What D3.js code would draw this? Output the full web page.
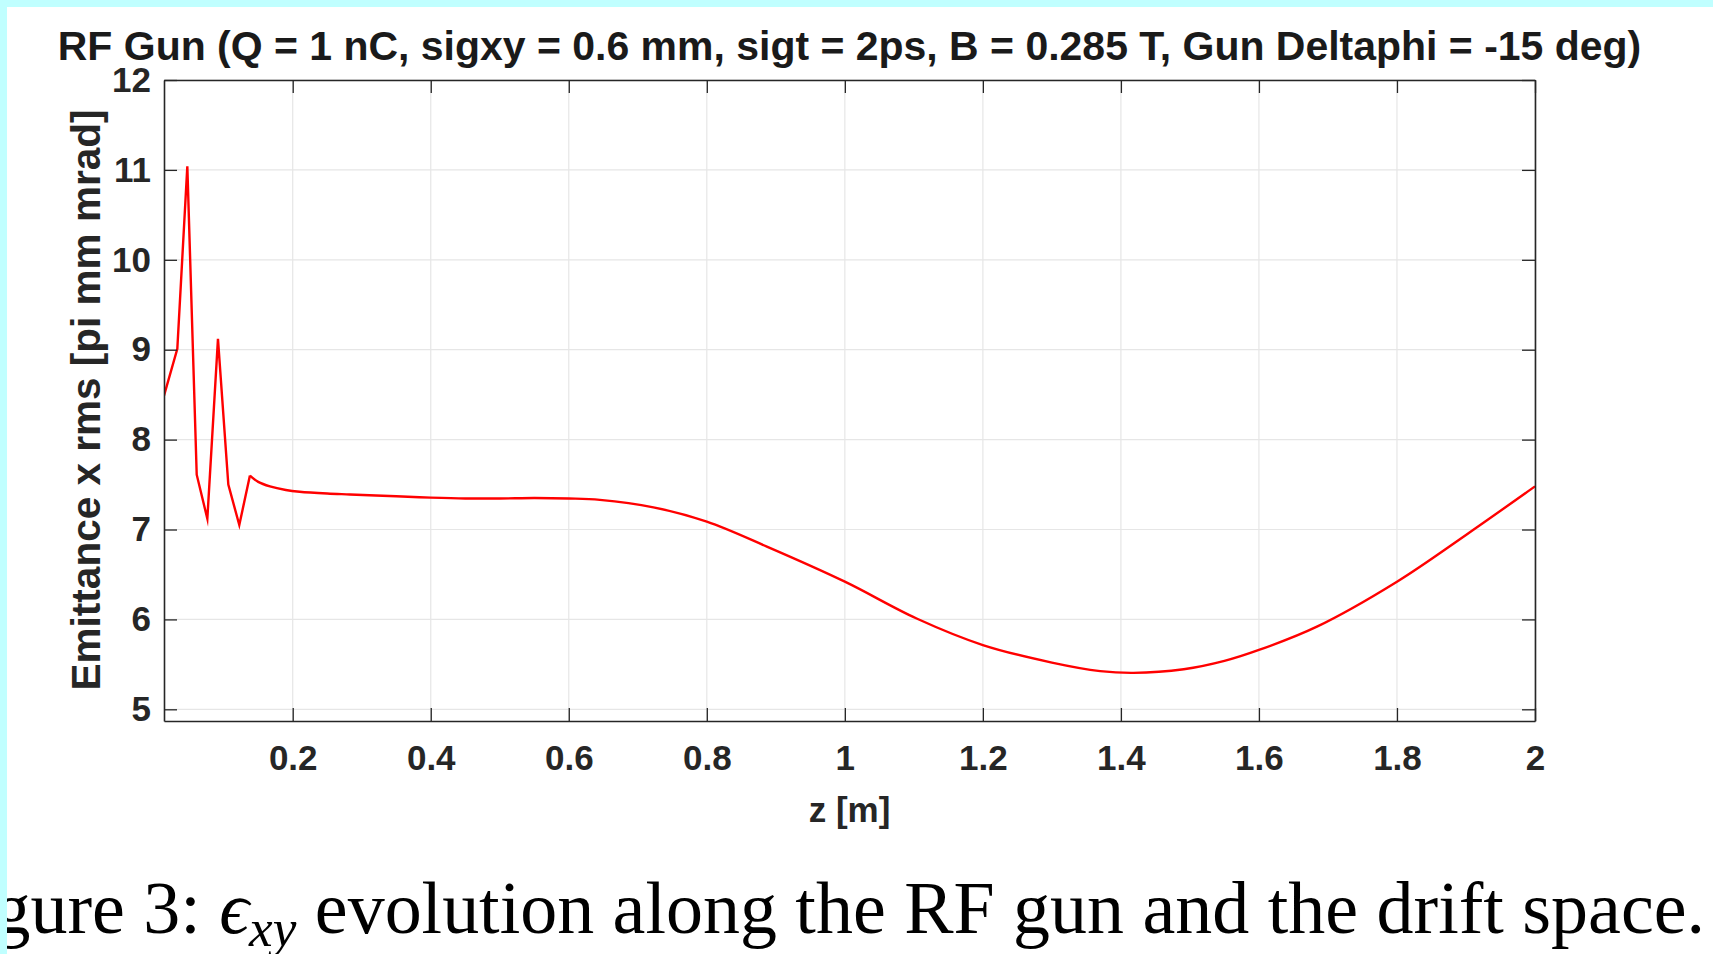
<!DOCTYPE html>
<html>
<head>
<meta charset="utf-8">
<script src="https://cdn.jsdelivr.net/npm/d3@7/dist/d3.min.js"></script>
<style>
  html, body { margin: 0; padding: 0; background: #ffffff; }
  svg { display: block; }
</style>
</head>
<body>
<svg id="chart" width="1713" height="954"></svg>
<script>
// ---- data ----
const titleText = "RF Gun (Q = 1 nC, sigxy = 0.6 mm, sigt = 2ps, B = 0.285 T, Gun Deltaphi = -15 deg)";
const xLabel = "z [m]";
const yLabel = "Emittance x rms [pi mm mrad]";
const xTicks = [0.2, 0.4, 0.6, 0.8, 1, 1.2, 1.4, 1.6, 1.8, 2];
const yTicks = [5, 6, 7, 8, 9, 10, 11, 12];

// sharp oscillation near the gun (drawn with straight segments)
const zGun = [0.0135, 0.0328, 0.0473, 0.0609, 0.0763, 0.0917, 0.1067, 0.1226, 0.138];
const emitGun = [8.49, 9.01, 11.04, 7.61, 7.12, 9.12, 7.50, 7.05, 7.60];

// smooth drift part
const zDrift = [0.138, 0.15, 0.167, 0.19, 0.21, 0.25, 0.283, 0.35, 0.4, 0.45, 0.5, 0.55, 0.6, 0.645,
                0.7226, 0.8, 0.887, 1.0, 1.104, 1.2, 1.3, 1.37, 1.418, 1.491, 1.55, 1.6, 1.684, 1.8, 1.9, 2.0];
const emitDrift = [7.60, 7.53, 7.48, 7.44, 7.42, 7.40, 7.39, 7.37, 7.355, 7.345, 7.345, 7.35, 7.345, 7.33,
                   7.247, 7.087, 6.81, 6.42, 6.01, 5.715, 5.52, 5.425, 5.405, 5.445, 5.538, 5.66, 5.92, 6.42, 6.94, 7.48];

// ---- layout ----
const W = 1713, H = 954;
const plot = { left: 164, right: 1535, top: 80, bottom: 721 };
const axisColor = "#262626";
const gridColor = "#e6e6e6";
const sans = "'Liberation Sans', Arial, Helvetica, sans-serif";

const svg = d3.select("#chart");
svg.append("rect").attr("x", 0).attr("y", 0).attr("width", W).attr("height", H).attr("fill", "#ffffff");

const x = d3.scaleLinear().domain([0.0135, 2]).range([plot.left, plot.right]);
const y = d3.scaleLinear().domain([4.87, 12]).range([plot.bottom, plot.top]);

// grid
const grid = svg.append("g");
grid.selectAll("line.vx").data(xTicks).enter().append("line")
  .attr("x1", d => x(d)).attr("x2", d => x(d))
  .attr("y1", plot.top).attr("y2", plot.bottom)
  .attr("stroke", gridColor).attr("stroke-width", 1.2);
grid.selectAll("line.hy").data(yTicks).enter().append("line")
  .attr("x1", plot.left).attr("x2", plot.right)
  .attr("y1", d => y(d)).attr("y2", d => y(d))
  .attr("stroke", gridColor).attr("stroke-width", 1.2);

// data lines
svg.append("clipPath").attr("id", "pclip").append("rect")
  .attr("x", plot.left).attr("y", plot.top)
  .attr("width", plot.right - plot.left).attr("height", plot.bottom - plot.top);

const gunPts = zGun.map((z, i) => [z, emitGun[i]]);
const driftPts = zDrift.map((z, i) => [z, emitDrift[i]]);

const lineLin = d3.line().x(d => x(d[0])).y(d => y(d[1])).curve(d3.curveLinear);
const lineSmooth = d3.line().x(d => x(d[0])).y(d => y(d[1])).curve(d3.curveCatmullRom.alpha(0.5));

const lines = svg.append("g").attr("clip-path", "url(#pclip)");
lines.append("path").attr("d", lineLin(gunPts))
  .attr("fill", "none").attr("stroke", "#ff0000").attr("stroke-width", 2.4)
  .attr("stroke-linejoin", "miter").attr("stroke-miterlimit", 10);
lines.append("path").attr("d", lineSmooth(driftPts))
  .attr("fill", "none").attr("stroke", "#ff0000").attr("stroke-width", 2.4);

// axes
const tickLen = 13;
const fontSize = 35;

function styleAxis(g) {
  g.select(".domain").attr("stroke", axisColor).attr("stroke-width", 1.6);
  g.selectAll(".tick line").attr("stroke", axisColor).attr("stroke-width", 1.3);
  g.selectAll(".tick text").attr("fill", axisColor)
    .attr("font-family", sans).attr("font-weight", "bold").attr("font-size", fontSize);
}

const gx = svg.append("g").attr("transform", `translate(0,${plot.bottom})`)
  .call(d3.axisBottom(x).tickValues(xTicks).tickSizeInner(-tickLen).tickSizeOuter(0)
    .tickPadding(24).tickFormat(d3.format("~g")));
gx.call(styleAxis);

const gxt = svg.append("g").attr("transform", `translate(0,${plot.top})`)
  .call(d3.axisTop(x).tickValues(xTicks).tickSizeInner(-tickLen).tickSizeOuter(0).tickFormat(""));
gxt.call(styleAxis);

const gy = svg.append("g").attr("transform", `translate(${plot.left},0)`)
  .call(d3.axisLeft(y).tickValues(yTicks).tickSizeInner(-tickLen).tickSizeOuter(0)
    .tickPadding(13).tickFormat(d3.format("~g")));
gy.call(styleAxis);

const gyr = svg.append("g").attr("transform", `translate(${plot.right},0)`)
  .call(d3.axisRight(y).tickValues(yTicks).tickSizeInner(-tickLen).tickSizeOuter(0).tickFormat(""));
gyr.call(styleAxis);

// title
const title = svg.append("text")
  .attr("x", (plot.left + plot.right) / 2).attr("y", 60)
  .attr("text-anchor", "middle")
  .attr("font-family", sans).attr("font-weight", "bold").attr("font-size", 34)
  .attr("fill", "#1a1a1a")
  .text(titleText);
{
  const w = title.node().getComputedTextLength();
  title.attr("font-size", 34 * 1584 / w);
}

// axis labels
svg.append("text")
  .attr("x", (plot.left + plot.right) / 2).attr("y", 822)
  .attr("text-anchor", "middle")
  .attr("font-family", sans).attr("font-weight", "bold").attr("font-size", fontSize)
  .attr("fill", axisColor)
  .text(xLabel);

const yl = svg.append("text")
  .attr("transform", "translate(100,400) rotate(-90)")
  .attr("text-anchor", "middle")
  .attr("font-family", sans).attr("font-weight", "bold").attr("font-size", fontSize)
  .attr("fill", axisColor)
  .text(yLabel);
{
  const w = yl.node().getComputedTextLength();
  yl.attr("font-size", fontSize * 581 / w);
}

// caption (document text beneath the figure)
const serif = "'Liberation Serif', 'Times New Roman', Times, serif";
const cap = svg.append("text")
  .attr("x", 1705).attr("y", 933)
  .attr("text-anchor", "end")
  .attr("font-family", serif).attr("font-size", 75).attr("fill", "#000000");
cap.append("tspan").text("gure 3: ");
cap.append("tspan").attr("font-style", "italic").text("\u03F5");
cap.append("tspan").attr("font-style", "italic").attr("font-size", "0.72em").attr("dy", "0.25em").text("xy");
cap.append("tspan").attr("dy", "-0.18em").text(" evolution along the RF gun and the drift space.");
{
  const w = cap.node().getComputedTextLength();
  cap.attr("font-size", 75 * 1712 / w);
}

// page frame (cyan border at top and left)
svg.append("rect").attr("x", 0).attr("y", 0).attr("width", W).attr("height", 7).attr("fill", "#c0ffff");
svg.append("rect").attr("x", 0).attr("y", 0).attr("width", 7).attr("height", H).attr("fill", "#c0ffff");
</script>
</body>
</html>
